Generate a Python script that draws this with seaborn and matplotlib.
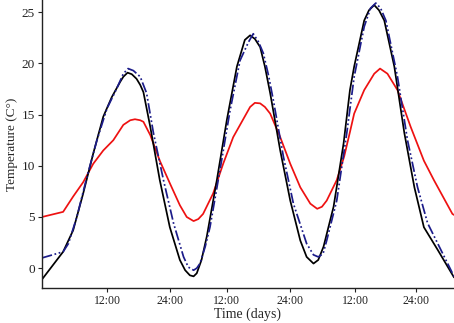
import pandas as pd
import matplotlib
matplotlib.use("Agg")
import matplotlib.pyplot as plt
import seaborn as sns

# time in hours from start, temperatures
black_t = [0, 4.0, 5.9, 7.8, 9.7, 11.6, 13.2, 14.8, 15.4, 16.2, 17.0, 17.9, 18.6, 19.2, 20.5,
           22.3, 24.2, 26.1, 27.1, 28.0, 28.7, 29.3, 30.2, 31.2, 33.1, 35.0, 36.9, 38.4,
           39.4, 40.3, 41.3, 42.2, 43.2, 45.1, 47.0, 48.9, 50.1, 51.4, 52.3, 53.3, 55.2,
           57.1, 58.3, 59.1, 61.0, 61.9, 62.9, 63.8, 64.8, 66.7, 68.6, 70.5, 72.3, 74.9,
           78.0]
black_v = [-1.1, 1.6, 3.7, 7.3, 11.2, 14.8, 16.7, 18.2, 18.7, 19.1, 18.95, 18.5, 17.9, 17.2, 13.8,
           8.6, 4.0, 0.8, -0.2, -0.7, -0.8, -0.5, 0.8, 3.1, 8.6, 14.5, 19.7, 22.3,
           22.75, 22.4, 21.6, 19.7, 17.1, 11.5, 6.6, 2.7, 1.1, 0.45, 0.8, 2.1, 6.0,
           12.2, 17.4, 19.7, 24.2, 25.2, 25.7, 25.2, 24.2, 19.7, 13.2, 7.9, 4.0, 1.8,
           -0.9]

blue_t = [0, 4.0, 5.0, 6.6, 8.5, 10.4, 12.3, 14.1, 15.4, 16.3, 17.3, 18.6, 19.8, 21.1, 23.0,
          24.9, 26.8, 27.7, 28.7, 29.3, 29.9, 30.9, 31.8, 33.7, 35.6, 37.5, 39.1, 40.0,
          41.0, 41.9, 42.9, 43.8, 45.7, 47.6, 50.1, 51.4, 52.3, 53.2, 53.9, 55.8, 57.7,
          59.1, 61.0, 62.2, 63.2, 64.1, 65.1, 67.3, 69.2, 71.1, 73.0, 75.5, 78.0]
blue_v = [1.0, 1.6, 2.4, 5.0, 8.9, 12.5, 15.6, 17.5, 19.0, 19.5, 19.3, 18.7, 17.1, 13.2, 8.6,
          4.4, 1.1, 0.1, -0.2, 0.0, 0.45, 2.1, 4.0, 9.6, 15.4, 20.3, 22.1, 22.9,
          22.1, 21.0, 18.8, 16.4, 10.9, 6.3, 2.4, 1.3, 1.1, 1.4, 2.7, 6.6, 13.2,
          18.7, 23.6, 25.4, 25.9, 25.4, 24.2, 18.7, 12.5, 7.9, 4.4, 1.8, -0.8]

red_t = [0, 4.0, 5.9, 7.8, 9.7, 11.6, 13.5, 15.4, 16.7, 17.6, 18.6, 19.2, 20.5, 22.3, 24.2,
         26.1, 27.4, 28.7, 29.6, 30.5, 32.4, 34.3, 36.2, 37.5, 39.4, 40.3, 41.3, 42.2,
         43.2, 45.1, 47.0, 48.9, 50.8, 52.1, 53.0, 53.9, 55.8, 57.2, 58.3, 59.1, 61.0,
         62.9, 64.0, 65.4, 67.3, 69.8, 72.3, 74.2, 77.7, 78.0]
red_v = [5.0, 5.5, 7.0, 8.4, 10.2, 11.5, 12.5, 14.0, 14.45, 14.55, 14.45, 14.3, 13.0, 10.5, 8.3,
         6.15, 5.0, 4.6, 4.8, 5.3, 7.3, 10.2, 12.8, 14.0, 15.75, 16.15, 16.1, 15.75,
         15.1, 12.8, 10.2, 7.9, 6.3, 5.8, 6.0, 6.6, 8.6, 10.9, 13.3, 15.1, 17.4,
         19.0, 19.5, 19.0, 17.4, 13.8, 10.5, 8.6, 5.3, 5.2]

tick_pos = [12.4, 24.2, 35.0, 47.0, 59.3, 70.8]
tick_labels = ["12:00", "24:00", "12:00", "24:00", "12:00", "24:00"]
y_ticks = [0, 5, 10, 15, 20, 25]

sns.set_style("ticks")
plt.rcParams['font.family'] = ['Liberation Serif', 'DejaVu Serif']

fig = plt.figure(figsize=(4.54, 3.23), dpi=100)
ax = fig.add_axes([0.0925, 0.108, 0.9075, 0.892])

sns.lineplot(x=red_t, y=red_v, ax=ax, color="#ee1111", linewidth=1.25, sort=False)
sns.lineplot(x=black_t, y=black_v, ax=ax, color="black", linewidth=1.25, sort=False)
sns.lineplot(x=blue_t, y=blue_v, ax=ax, color="#1c1c8a", linewidth=1.25, sort=False)
ax.lines[-1].set_dashes([6, 1.5, 1, 1.5, 1, 1.5])
for ln in ax.lines:
    ln.set_solid_joinstyle("round")
    ln.set_dash_joinstyle("round")

ax.set_xlim(0, 78)
ax.set_ylim(-1.95, 26.2)
ax.set_xticks(tick_pos)
ax.set_xticklabels(tick_labels, fontsize=8.5)
ax.set_yticks(y_ticks)
ax.set_yticklabels([str(v) for v in y_ticks], fontsize=9.5)
ax.tick_params(axis='both', length=3, width=0.8, pad=2, colors='#222222')
ax.set_xlabel("Time (days)", fontsize=10, labelpad=0)
ax.set_ylabel("Temperature (C°)", fontsize=9.5, labelpad=3)

sns.despine(ax=ax)
for s in ("left", "bottom"):
    ax.spines[s].set_linewidth(1.0)
    ax.spines[s].set_color("#222222")

fig.savefig("out.png", dpi=100)
